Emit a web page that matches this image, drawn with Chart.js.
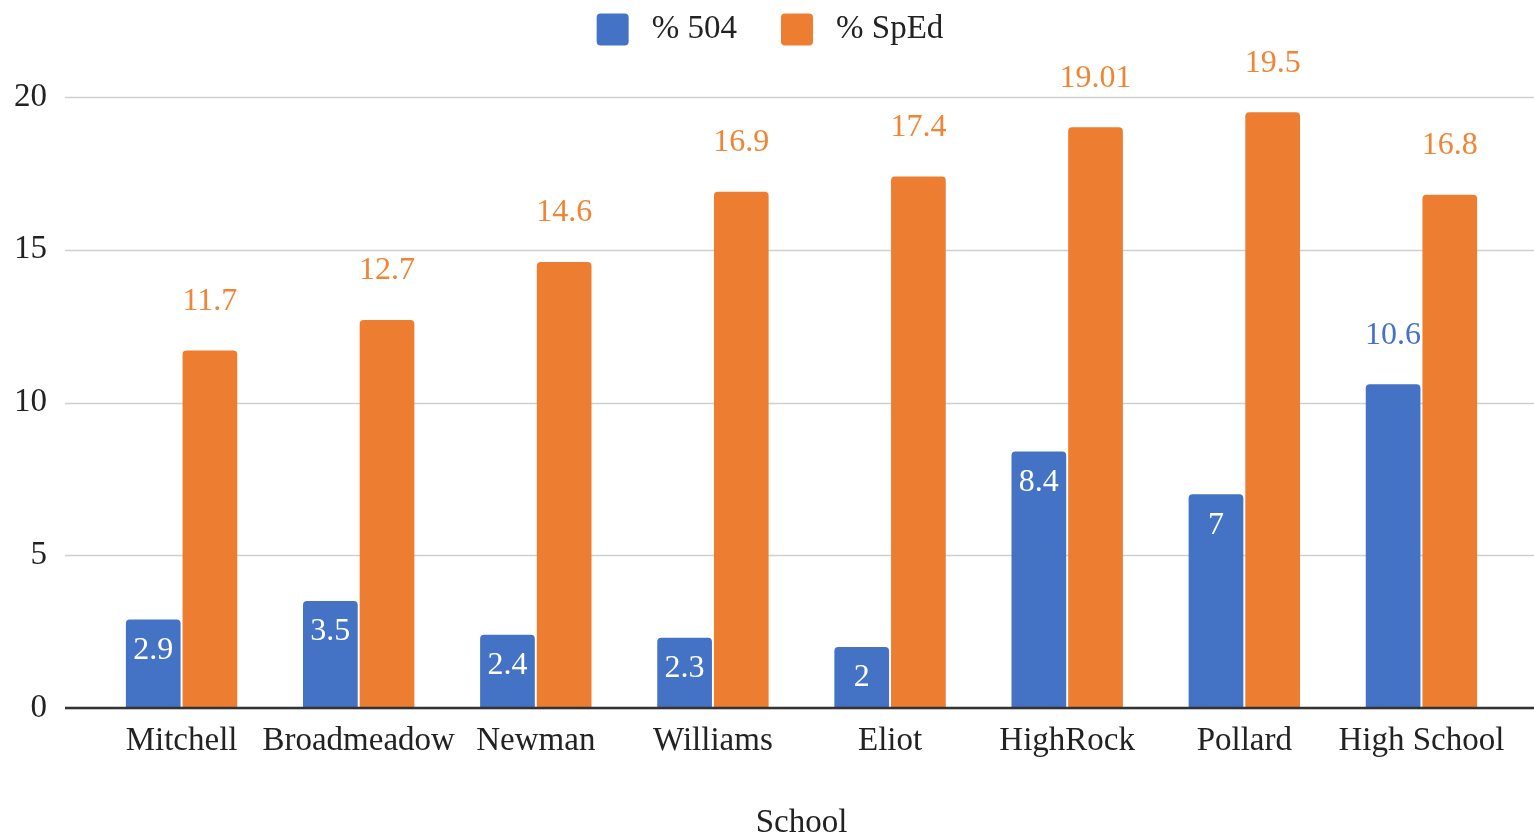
<!DOCTYPE html>
<html>
<head>
<meta charset="utf-8">
<script src="https://cdn.jsdelivr.net/npm/chart.js@4"></script>
<style>
  html, body { margin: 0; padding: 0; background: #fff; }
  #wrap { width: 1534px; height: 835px; }
</style>
</head>
<body>
<div id="wrap"><canvas id="chart" width="1534" height="835"></canvas></div>
<script>
// Data
const schools = ['Mitchell', 'Broadmeadow', 'Newman', 'Williams', 'Eliot', 'HighRock', 'Pollard', 'High School'];
const pct504 = [2.9, 3.5, 2.4, 2.3, 2, 8.4, 7, 10.6];
const pctSpEd = [11.7, 12.7, 14.6, 16.9, 17.4, 19.01, 19.5, 16.8];
const seriesNames = ['% 504', '% SpEd'];
const yTicks = [0, 5, 10, 15, 20];

const BLUE = '#4472c4';
const ORANGE = '#ed7d31';
const FONT = "'Liberation Serif', 'DejaVu Serif', serif";

// Make the legend taller so the plot starts lower, and center it on the page
const legendLayout = {
    id: 'legendLayout',
    beforeInit(chart) {
        const orig = chart.legend.fit;
        chart.legend.fit = function () {
            orig.call(this);
            this.height = 128;
        };
    },
    afterLayout(chart) {
        chart.legend.left = 6;
        chart.legend.right = chart.width;
    }
};

// Horizontal grid lines that run past the category band, like the original
const gridPlugin = {
    id: 'wideGrid',
    beforeDatasetsDraw(chart) {
        const ctx = chart.ctx;
        const y = chart.scales.y;
        ctx.save();
        yTicks.forEach(v => {
            const py = Math.round(y.getPixelForValue(v)) + 0.5;
            ctx.beginPath();
            ctx.moveTo(65, py);
            ctx.lineTo(chart.width, py);
            ctx.lineWidth = 1.5;
            ctx.strokeStyle = '#cfcfcf';
            ctx.stroke();
        });
        ctx.restore();
    },
    afterDatasetsDraw(chart) {
        const ctx = chart.ctx;
        const py = chart.scales.y.getPixelForValue(0);
        ctx.save();
        ctx.beginPath();
        ctx.moveTo(65, py);
        ctx.lineTo(chart.width, py);
        ctx.lineWidth = 2.5;
        ctx.strokeStyle = '#333';
        ctx.stroke();
        ctx.restore();
    }
};

// Value labels on bars
const labelPlugin = {
    id: 'barLabels',
    afterDatasetsDraw(chart) {
        const ctx = chart.ctx;
        ctx.save();
        ctx.font = '32px ' + FONT;
        ctx.textAlign = 'center';
        ctx.textBaseline = 'middle';
        chart.data.datasets.forEach((ds, di) => {
            const meta = chart.getDatasetMeta(di);
            meta.data.forEach((bar, i) => {
                const v = ds.data[i];
                const txt = String(v);
                if (di === 0 && v < 10) {
                    ctx.fillStyle = '#ffffff';
                    ctx.fillText(txt, bar.x, bar.y + 31);
                } else {
                    ctx.fillStyle = di === 0 ? BLUE : '#ef8535';
                    ctx.fillText(txt, bar.x, bar.y - 49);
                }
            });
        });
        ctx.restore();
    }
};

const ctx = document.getElementById('chart').getContext('2d');
new Chart(ctx, {
    type: 'bar',
    data: {
        labels: schools,
        datasets: [{
            label: seriesNames[0],
            data: pct504,
            backgroundColor: BLUE,
            borderRadius: { topLeft: 4, topRight: 4 },
            borderSkipped: 'bottom',
            categoryPercentage: 0.64,
            barPercentage: 0.965
        }, {
            label: seriesNames[1],
            data: pctSpEd,
            backgroundColor: ORANGE,
            borderRadius: { topLeft: 4, topRight: 4 },
            borderSkipped: 'bottom',
            categoryPercentage: 0.64,
            barPercentage: 0.965
        }]
    },
    options: {
        responsive: false,
        animation: false,
        devicePixelRatio: 1,
        layout: { padding: { left: 0, right: 24, top: -31, bottom: 0 } },
        plugins: {
            legend: {
                position: 'top',
                labels: {
                    font: { family: FONT, size: 33 },
                    color: '#222',
                    boxWidth: 32,
                    boxHeight: 32,
                    useBorderRadius: true,
                    borderRadius: 4,
                    padding: 44,
                    generateLabels(chart) {
                        const items = Chart.defaults.plugins.legend.labels.generateLabels(chart);
                        // a little more room between swatch and text
                        items.forEach(it => { it.text = '\u2009' + it.text; });
                        return items;
                    }
                }
            },
            tooltip: { enabled: false }
        },
        scales: {
            x: {
                afterFit(scale) { scale.height = 127; },
                grid: { display: false, drawTicks: false },
                border: { display: false },
                ticks: {
                    font: { family: FONT, size: 33 },
                    color: '#222',
                    maxRotation: 0,
                    minRotation: 0,
                    autoSkip: false,
                    padding: 14
                },
                title: {
                    display: true,
                    text: 'School',
                    font: { family: FONT, size: 33 },
                    color: '#222',
                    padding: { top: 30, bottom: -8 }
                }
            },
            y: {
                min: 0,
                max: 20,
                afterFit(scale) { scale.width = 93; },
                grid: { display: false, drawTicks: false },
                border: { display: false },
                ticks: {
                    stepSize: 5,
                    font: { family: FONT, size: 33 },
                    color: '#222',
                    padding: 46
                }
            }
        }
    },
    plugins: [legendLayout, gridPlugin, labelPlugin]
});
</script>
</body>
</html>
